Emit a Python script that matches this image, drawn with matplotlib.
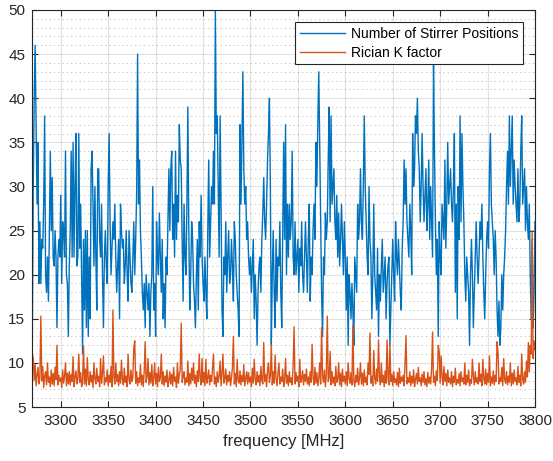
import matplotlib
matplotlib.use('Agg')
import matplotlib.pyplot as plt
from matplotlib.ticker import MultipleLocator
import numpy as np

# ---------------- data (1 MHz steps from 3270 MHz) ----------------
start_freq = 3270
x_ticks = [3300, 3350, 3400, 3450, 3500, 3550, 3600, 3650, 3700, 3750, 3800]
y_ticks = [5, 10, 15, 20, 25, 30, 35, 40, 45, 50]

stirrer_positions = [
    13, 30, 40, 46, 37, 28, 35, 19, 26, 19,   # 3270
    24, 23, 28, 38, 20, 18, 22, 17, 25, 34,   # 3280
    25, 31, 22, 21, 25, 22, 14, 22, 24, 22,   # 3290
    29, 19, 26, 25, 22, 34, 20, 19, 13, 21,   # 3300
    25, 34, 22, 35, 22, 30, 36, 21, 22, 36,   # 3310
    23, 28, 20, 11, 24, 16, 25, 14, 25, 13,   # 3320
    22, 15, 32, 34, 28, 21, 30, 22, 16, 32,   # 3330
    32, 24, 22, 28, 20, 14, 22, 25, 21, 19,   # 3340
    30, 36, 26, 20, 23, 26, 24, 28, 22, 18,   # 3350
    21, 24, 15, 28, 25, 23, 24, 19, 21, 25,   # 3360
    20, 17, 25, 22, 19, 18, 22, 26, 20, 24,   # 3370
    29, 45, 28, 33, 25, 22, 18, 16, 19, 14,   # 3380
    20, 18, 16, 19, 13, 18, 20, 30, 16, 19,   # 3390
    13, 26, 22, 20, 27, 22, 18, 24, 15, 19,   # 3400
    14, 22, 20, 26, 32, 25, 32, 34, 24, 28,   # 3410
    22, 34, 24, 29, 26, 37, 33, 32, 24, 17,   # 3420
    28, 22, 20, 28, 39, 25, 16, 20, 26, 24,   # 3430
    19, 17, 14, 20, 24, 16, 26, 22, 29, 22,   # 3440
    19, 17, 22, 18, 15, 25, 33, 22, 26, 30,   # 3450
    28, 34, 28, 50, 36, 38, 30, 22, 38, 28,   # 3460
    16, 13, 22, 20, 26, 18, 22, 25, 19, 20,   # 3470
    24, 21, 17, 26, 24, 20, 18, 16, 13, 37,   # 3480
    28, 35, 43, 32, 28, 30, 24, 26, 22, 20,   # 3490
    22, 18, 21, 24, 15, 20, 17, 12, 18, 21,   # 3500
    22, 18, 24, 27, 31, 26, 24, 28, 33, 36,   # 3510
    40, 30, 12, 20, 25, 18, 14, 24, 17, 22,   # 3520
    21, 26, 18, 14, 25, 35, 24, 37, 20, 28,   # 3530
    22, 28, 24, 26, 34, 22, 20, 26, 20, 22,   # 3540
    24, 18, 23, 21, 26, 20, 18, 22, 26, 22,   # 3550
    18, 24, 28, 17, 22, 20, 25, 28, 24, 35,   # 3560
    30, 37, 43, 35, 26, 18, 13, 22, 20, 27,   # 3570
    24, 26, 33, 39, 26, 38, 28, 30, 32, 26,   # 3580
    24, 29, 22, 27, 21, 24, 28, 24, 20, 26,   # 3590
    22, 16, 22, 12, 20, 18, 15, 19, 16, 12,   # 3600
    22, 20, 18, 28, 24, 26, 32, 26, 24, 30,   # 3610
    38, 30, 26, 22, 20, 30, 24, 22, 15, 20,   # 3620
    28, 20, 18, 16, 23, 13, 20, 17, 21, 24,   # 3630
    18, 20, 22, 15, 19, 21, 22, 12, 16, 20,   # 3640
    24, 20, 17, 26, 22, 20, 24, 21, 18, 16,   # 3650
    23, 26, 33, 28, 32, 26, 24, 22, 28, 25,   # 3660
    20, 36, 30, 32, 38, 36, 40, 34, 32, 26,   # 3670
    30, 36, 30, 26, 29, 32, 25, 28, 33, 24,   # 3680
    30, 26, 22, 44, 34, 26, 20, 24, 13, 26,   # 3690
    22, 20, 28, 26, 24, 33, 23, 28, 35, 28,   # 3700
    30, 32, 28, 26, 30, 36, 18, 28, 15, 30,   # 3710
    24, 38, 26, 36, 30, 26, 20, 17, 22, 20,   # 3720
    18, 12, 20, 24, 20, 14, 18, 22, 26, 22,   # 3730
    19, 22, 26, 24, 28, 22, 18, 15, 20, 24,   # 3740
    26, 23, 32, 36, 28, 26, 24, 20, 25, 22,   # 3750
    16, 13, 17, 12, 14, 20, 16, 20, 22, 25,   # 3760
    30, 34, 28, 38, 30, 34, 38, 28, 33, 30,   # 3770
    28, 26, 32, 26, 28, 34, 38, 28, 30, 32,   # 3780
    25, 30, 26, 24, 28, 20, 15, 24, 14, 18,   # 3790
    26,                                       # 3800
]

rician_k = [
    11.0, 10.5, 8.0, 9.8, 7.4, 8.6, 9.5, 7.6, 8.3, 15.3,   # 3270
    8.0, 9.6, 7.2, 8.5, 9.0, 7.5, 10.0, 7.8, 8.4, 7.3,     # 3280
    9.2, 7.6, 8.8, 7.4, 9.5, 8.1, 12.0, 7.5, 8.6, 7.9,     # 3290
    8.3, 7.2, 9.2, 7.7, 8.5, 10.0, 7.4, 8.8, 7.6, 9.0,     # 3300
    7.5, 8.7, 7.9, 10.7, 7.3, 8.4, 9.1, 7.6, 8.2, 11.0,    # 3310
    7.8, 8.9, 7.3, 8.0, 11.9, 7.6, 9.3, 7.4, 10.6, 8.1,    # 3320
    7.5, 9.0, 7.8, 8.6, 7.2, 10.0, 8.2, 7.6, 9.4, 7.9,     # 3330
    8.5, 7.3, 10.5, 7.7, 8.8, 10.8, 7.5, 8.3, 7.9, 9.2,    # 3340
    7.4, 8.6, 7.8, 9.6, 7.3, 16.0, 8.4, 7.6, 10.0, 7.9,    # 3350
    8.7, 7.4, 9.0, 7.7, 10.3, 8.1, 7.5, 9.4, 7.8, 8.5,     # 3360
    7.3, 11.0, 8.0, 7.6, 9.2, 7.9, 8.4, 11.7, 12.5, 7.7,   # 3370
    9.0, 7.4, 8.3, 7.8, 9.8, 7.5, 8.6, 7.3, 9.1, 12.4,     # 3380
    7.8, 8.4, 10.5, 7.5, 8.9, 7.7, 9.8, 7.4, 8.2, 10.0,    # 3390
    7.6, 8.8, 7.3, 9.5, 7.9, 8.3, 11.0, 7.6, 9.0, 7.4,     # 3400
    8.5, 7.8, 9.2, 7.3, 8.0, 9.0, 7.6, 8.7, 7.4, 9.5,      # 3410
    7.9, 8.4, 7.2, 10.0, 7.7, 8.6, 9.3, 14.5, 7.8, 8.5,    # 3420
    9.0, 7.5, 8.3, 7.8, 10.2, 7.4, 8.8, 7.6, 9.4, 8.0,     # 3430
    10.0, 7.7, 8.6, 7.3, 9.1, 7.9, 11.0, 8.2, 7.5, 10.5,   # 3440
    7.8, 8.9, 7.4, 10.4, 7.7, 8.3, 9.2, 7.5, 8.6, 7.9,     # 3450
    9.5, 11.0, 7.6, 8.4, 7.3, 9.0, 7.8, 8.5, 10.2, 7.4,    # 3460
    8.8, 11.0, 7.7, 8.2, 9.3, 7.5, 8.6, 7.9, 9.0, 7.4,     # 3470
    8.3, 9.5, 13.0, 7.6, 8.8, 7.3, 10.4, 8.0, 7.7, 9.1,    # 3480
    7.5, 8.6, 7.9, 9.8, 7.4, 8.2, 9.0, 7.6, 8.9, 7.8,      # 3490
    8.4, 7.3, 9.4, 7.7, 10.4, 8.1, 7.5, 9.0, 7.8, 8.6,     # 3500
    7.4, 9.6, 8.0, 7.6, 12.3, 7.9, 8.7, 7.3, 9.2, 10.0,    # 3510
    7.8, 8.5, 12.1, 7.5, 9.0, 7.7, 10.9, 8.2, 7.4, 8.8,    # 3520
    10.0, 7.6, 8.4, 7.9, 9.3, 7.3, 8.1, 10.5, 7.7, 8.6,    # 3530
    7.4, 9.0, 7.8, 8.3, 7.5, 9.7, 14.1, 7.6, 8.9, 7.9,     # 3540
    8.5, 7.3, 10.4, 7.8, 8.2, 9.1, 7.5, 8.7, 7.9, 9.3,     # 3550
    7.6, 8.4, 7.4, 9.0, 7.8, 12.1, 8.3, 7.5, 9.5, 7.7,     # 3560
    8.9, 7.4, 8.2, 10.0, 7.6, 14.0, 8.5, 7.8, 9.2, 7.3,    # 3570
    8.6, 15.3, 7.9, 8.3, 11.3, 7.5, 9.0, 7.7, 8.4, 7.4,    # 3580
    9.6, 7.8, 8.1, 10.0, 7.5, 8.8, 7.3, 9.3, 7.9, 8.5,     # 3590
    7.6, 9.0, 7.4, 10.0, 8.2, 7.7, 8.9, 7.5, 14.3, 8.0,    # 3600
    7.3, 8.6, 7.8, 9.4, 7.5, 8.3, 10.0, 7.6, 8.8, 7.4,     # 3610
    9.2, 7.8, 8.4, 7.5, 10.0, 8.7, 13.4, 7.7, 8.5, 7.4,    # 3620
    11.4, 8.2, 7.6, 9.3, 7.9, 12.6, 8.4, 7.5, 10.0, 7.8,   # 3630
    8.6, 7.3, 9.1, 7.7, 12.6, 8.3, 7.5, 12.2, 7.9, 8.7,    # 3640
    7.4, 9.0, 7.8, 8.2, 7.5, 8.9, 7.3, 9.4, 7.7, 8.4,      # 3650
    7.9, 8.6, 7.4, 10.0, 13.1, 7.6, 8.3, 7.8, 9.0, 7.4,    # 3660
    8.5, 7.7, 9.2, 7.3, 8.1, 8.8, 7.6, 9.5, 7.9, 8.3,      # 3670
    7.4, 8.7, 7.8, 9.0, 7.5, 8.2, 7.3, 8.9, 7.7, 8.4,      # 3680
    7.6, 9.3, 13.5, 7.8, 8.5, 7.4, 9.1, 8.0, 12.0, 11.3,   # 3690
    7.7, 10.8, 8.4, 7.5, 9.6, 7.9, 8.8, 7.4, 9.2, 7.8,     # 3700
    8.3, 7.6, 9.0, 7.3, 8.5, 7.8, 9.4, 7.5, 8.1, 7.7,      # 3710
    8.8, 7.4, 9.0, 7.9, 8.3, 7.6, 10.0, 7.5, 8.6, 7.8,     # 3720
    9.2, 7.4, 8.1, 7.7, 10.4, 8.5, 7.5, 9.0, 7.8, 8.3,     # 3730
    7.6, 10.0, 7.9, 8.7, 7.4, 10.4, 8.2, 7.6, 9.3, 7.5,    # 3740
    8.8, 7.8, 10.8, 7.4, 8.4, 7.7, 9.1, 7.5, 8.6, 7.9,     # 3750
    12.4, 11.2, 7.6, 8.3, 7.9, 9.5, 7.4, 10.5, 8.1, 7.7,   # 3760
    9.0, 7.5, 8.5, 7.8, 10.0, 7.4, 8.8, 7.6, 9.2, 7.9,     # 3770
    8.3, 7.5, 9.6, 7.8, 8.6, 7.4, 11.0, 8.1, 7.6, 9.0,     # 3780
    7.8, 10.2, 8.4, 12.3, 9.0, 12.0, 11.0, 25.0, 10.5, 12.5,  # 3790
    11.5,                                                  # 3800
]

series_labels = ['Number of Stirrer Positions', 'Rician K factor']
x_label = 'frequency [MHz]'

# ---------------- plotting ----------------
plt.rcParams['font.family'] = ['Liberation Sans', 'DejaVu Sans']

freq_s = start_freq + np.arange(len(stirrer_positions))
freq_k = start_freq + np.arange(len(rician_k))

axis_color = '#262626'
fig = plt.figure(figsize=(5.53, 4.61), dpi=100)
ax = fig.add_axes([32.3 / 553, 1 - 407 / 461, (535 - 32.3) / 553, (407 - 10) / 461])

ax.plot(freq_s, stirrer_positions, color='#0072BD', lw=1.0, label=series_labels[0])
ax.plot(freq_k, rician_k, color='#D95319', lw=1.0, label=series_labels[1])

ax.set_xlim(3270, 3800)
ax.set_ylim(5, 50)
ax.set_xticks(x_ticks)
ax.set_yticks(y_ticks)
ax.yaxis.set_minor_locator(MultipleLocator(1))

ax.set_axisbelow(True)
ax.grid(which='major', color=axis_color, alpha=0.13, lw=0.8)
ax.yaxis.grid(which='minor', color=axis_color, alpha=0.25, lw=0.7, ls=(0, (1.4, 3)))

ax.tick_params(which='major', direction='in', top=True, right=True, length=4,
               width=0.8, colors=axis_color, labelsize=11, pad=5)
ax.tick_params(which='minor', length=0)
for s in ax.spines.values():
    s.set_color(axis_color)
    s.set_linewidth(0.8)

ax.set_xlabel(x_label, fontsize=12, color=axis_color, labelpad=4)

leg = ax.legend(loc='upper right', fontsize=10, frameon=True, fancybox=False,
                edgecolor=axis_color, framealpha=1, handlelength=3.25,
                handletextpad=0.4, borderaxespad=0.85, labelspacing=0.35,
                borderpad=0.35)
leg.get_frame().set_linewidth(0.8)
for t in leg.get_texts():
    t.set_color('black')

fig.savefig('out.png', dpi=100)
